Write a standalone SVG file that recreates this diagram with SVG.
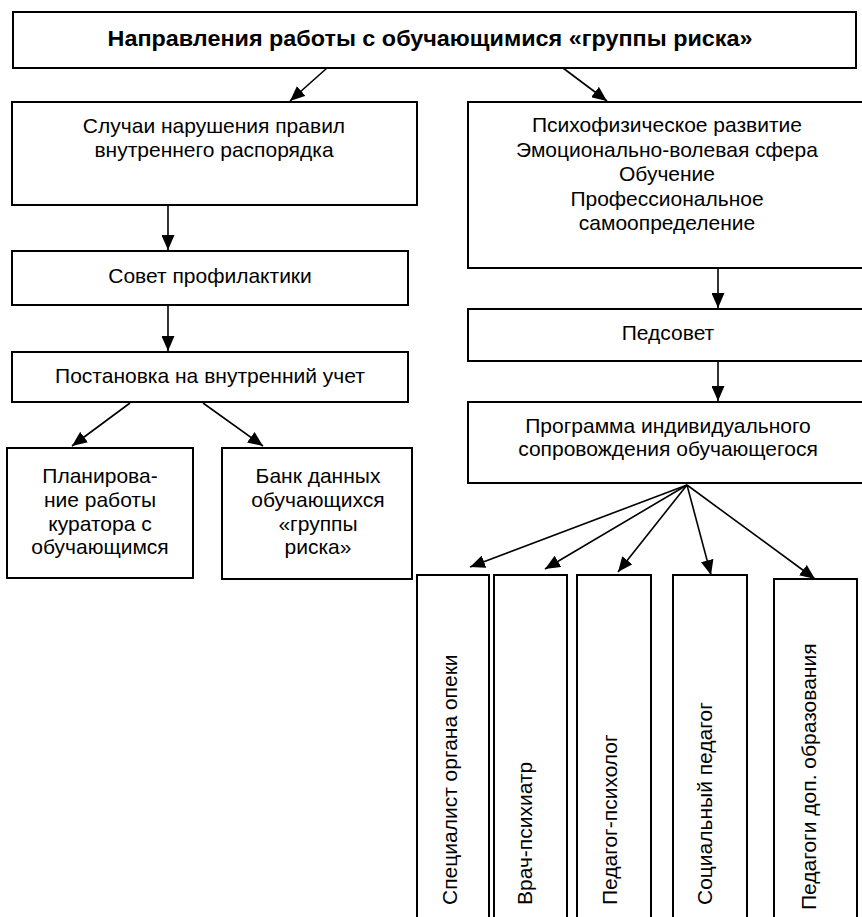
<svg xmlns="http://www.w3.org/2000/svg" width="862" height="917" viewBox="0 0 862 917">
<defs>
<style>
.box{fill:#fff;stroke:#000;stroke-width:2}
.t{font-family:"Liberation Sans",Arial,sans-serif;font-size:21px;fill:#000;text-anchor:middle}
.tv{font-family:"Liberation Sans",Arial,sans-serif;font-size:21px;fill:#000;text-anchor:start}
.b{font-weight:bold;font-size:22px}
.c{fill:none;stroke:#000;stroke-width:1.6}
</style>
<marker id="ah" markerUnits="userSpaceOnUse" markerWidth="16" markerHeight="13" refX="15" refY="6.5" orient="auto">
<path d="M0,0 L15,6.5 L0,13 z" fill="#000"/>
</marker>
</defs>
<rect width="862" height="917" fill="#fff"/>
<g id="connectors">
<line class="c" x1="327" y1="68" x2="290" y2="101" marker-end="url(#ah)"/>
<line class="c" x1="563" y1="68" x2="607" y2="101" marker-end="url(#ah)"/>
<line class="c" x1="168" y1="205" x2="168" y2="250" marker-end="url(#ah)"/>
<line class="c" x1="168" y1="305" x2="168" y2="351" marker-end="url(#ah)"/>
<line class="c" x1="130" y1="403" x2="72" y2="446" marker-end="url(#ah)"/>
<line class="c" x1="203" y1="403" x2="263" y2="446" marker-end="url(#ah)"/>
<line class="c" x1="718" y1="268" x2="718" y2="308" marker-end="url(#ah)"/>
<line class="c" x1="718" y1="361" x2="718" y2="401" marker-end="url(#ah)"/>
<line class="c" x1="687" y1="485" x2="470" y2="567" marker-end="url(#ah)"/>
<line class="c" x1="687" y1="485" x2="545" y2="569" marker-end="url(#ah)"/>
<line class="c" x1="687" y1="485" x2="618" y2="572" marker-end="url(#ah)"/>
<line class="c" x1="687" y1="485" x2="711" y2="575" marker-end="url(#ah)"/>
<line class="c" x1="687" y1="485" x2="815" y2="579" marker-end="url(#ah)"/>
</g>
<g id="title">
<rect class="box" x="13" y="12" width="843" height="56"/>
<text class="t b" x="430" y="46" textLength="645" lengthAdjust="spacingAndGlyphs">Направления работы с обучающимися «группы риска»</text>
</g>
<g id="violations">
<rect class="box" x="12" y="102" width="405" height="103"/>
<text class="t" x="214" y="133">Случаи нарушения правил</text>
<text class="t" x="214" y="157">внутреннего распорядка</text>
</g>
<g id="council">
<rect class="box" x="12" y="251" width="396" height="54"/>
<text class="t" x="210" y="283">Совет профилактики</text>
</g>
<g id="registration">
<rect class="box" x="12" y="352" width="396" height="50"/>
<text class="t" x="210" y="383">Постановка на внутренний учет</text>
</g>
<g id="planning">
<rect class="box" x="7" y="448" width="186" height="130"/>
<text class="t" x="100" y="483">Планирова-</text>
<text class="t" x="100" y="507">ние работы</text>
<text class="t" x="100" y="531">куратора с</text>
<text class="t" x="100" y="554">обучающимся</text>
</g>
<g id="databank">
<rect class="box" x="222" y="448" width="190" height="131"/>
<text class="t" x="318" y="483">Банк данных</text>
<text class="t" x="318" y="507">обучающихся</text>
<text class="t" x="318" y="531">«группы</text>
<text class="t" x="318" y="554">риска»</text>
</g>
<g id="areas">
<rect class="box" x="468" y="102" width="400" height="166"/>
<text class="t" x="667" y="132">Психофизическое развитие</text>
<text class="t" x="667" y="157">Эмоционально-волевая сфера</text>
<text class="t" x="667" y="181">Обучение</text>
<text class="t" x="667" y="206">Профессиональное</text>
<text class="t" x="667" y="230">самоопределение</text>
</g>
<g id="pedsovet">
<rect class="box" x="468" y="309" width="400" height="52"/>
<text class="t" x="668" y="340">Педсовет</text>
</g>
<g id="program">
<rect class="box" x="468" y="402" width="400" height="81"/>
<text class="t" x="668" y="433">Программа индивидуального</text>
<text class="t" x="668" y="456">сопровождения обучающегося</text>
</g>
<g id="guardianship">
<rect class="box" x="417" y="575" width="72" height="350"/>
<text class="tv" transform="translate(457,905) rotate(-90)">Специалист органа опеки</text>
</g>
<g id="psychiatrist">
<rect class="box" x="494" y="575" width="73" height="350"/>
<text class="tv" transform="translate(532,905) rotate(-90)">Врач-психиатр</text>
</g>
<g id="psychologist">
<rect class="box" x="577" y="575" width="74" height="350"/>
<text class="tv" transform="translate(617,905) rotate(-90)">Педагог-психолог</text>
</g>
<g id="social">
<rect class="box" x="673" y="575" width="74" height="350"/>
<text class="tv" transform="translate(712,905) rotate(-90)">Социальный педагог</text>
</g>
<g id="extra">
<rect class="box" x="774" y="579" width="83" height="350"/>
<text class="tv" transform="translate(816,910) rotate(-90)">Педагоги доп. образования</text>
</g>
</svg>
